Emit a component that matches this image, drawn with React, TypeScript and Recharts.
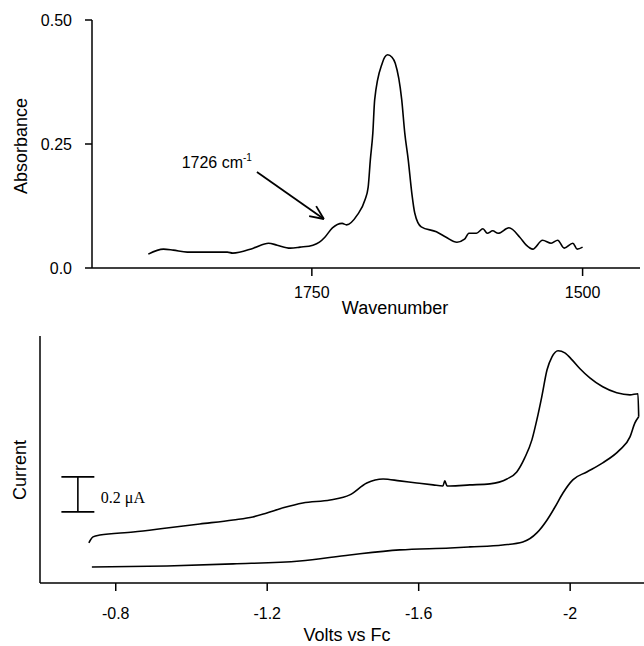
import React from 'react';
import { LineChart, Line, XAxis, YAxis, ReferenceLine } from 'recharts';

const FONT = '"Liberation Sans", Arial, Helvetica, sans-serif';
const SERIF = '"Liberation Serif", "Times New Roman", serif';

// ---------- Top panel: IR spectrum ----------
const wavenumbers = [
  1901, 1887, 1878, 1865, 1828, 1823, 1804, 1790, 1782, 1770, 1761, 1749, 1743, 1738,
  1731, 1722, 1718, 1708, 1701, 1698, 1696, 1693.7, 1692, 1685, 1682.7, 1680, 1676, 1673,
  1667, 1664.2, 1661, 1657.7, 1655, 1649, 1635, 1626, 1616, 1609, 1605, 1598, 1592, 1588,
  1583, 1578, 1568, 1558, 1552, 1546, 1537, 1529, 1523, 1517, 1509, 1505, 1500,
];
const absorbance = [
  0.028, 0.038, 0.036, 0.032, 0.032, 0.030, 0.040, 0.050, 0.046, 0.040, 0.042, 0.046, 0.052, 0.062,
  0.081, 0.090, 0.087, 0.107, 0.137, 0.163, 0.218, 0.272, 0.339, 0.413, 0.425, 0.430, 0.425, 0.413,
  0.339, 0.272, 0.218, 0.151, 0.111, 0.083, 0.073, 0.062, 0.052, 0.058, 0.070, 0.070, 0.079, 0.070,
  0.075, 0.070, 0.081, 0.062, 0.046, 0.038, 0.056, 0.050, 0.056, 0.040, 0.050, 0.038, 0.042,
];
const irXTicks = [1750, 1500];
const irYTicks = [0, 0.25, 0.5];
const irYTickLabels = ['0.0', '0.25', '0.50'];
const irArrow = { fromWn: 1800.7, fromA: 0.1935, toWn: 1738.9, toA: 0.0988 };
const irAnnotation = '1726 cm';

// ---------- Bottom panel: cyclic voltammogram ----------
const cvForwardVolts = [
  -0.729, -0.740, -0.758, -0.846, -0.935, -1.022, -1.110, -1.162, -1.199, -1.242, -1.294, -1.366,
  -1.418, -1.463, -1.506, -1.550, -1.595, -1.638, -1.664, -1.669, -1.675, -1.683, -1.735, -1.788,
  -1.833, -1.859, -1.880, -1.899, -1.912, -1.925, -1.939, -1.952, -1.968, -1.986, -2.005, -2.026,
  -2.052, -2.086, -2.123, -2.158, -2.179, -2.181,
];
const cvForwardCurrent = [
  0.229, 0.263, 0.274, 0.291, 0.314, 0.337, 0.360, 0.377, 0.400, 0.429, 0.457, 0.474,
  0.503, 0.571, 0.594, 0.583, 0.571, 0.560, 0.554, 0.583, 0.554, 0.554, 0.560, 0.566,
  0.594, 0.634, 0.714, 0.817, 0.931, 1.063, 1.217, 1.291, 1.326, 1.314, 1.274, 1.223,
  1.171, 1.120, 1.086, 1.074, 1.080, 0.949,
];
const cvReverseVolts = [
  -2.181, -2.171, -2.158, -2.131, -2.086, -2.044, -2.007, -1.981, -1.960, -1.939, -1.912,
  -1.875, -1.822, -1.735, -1.683, -1.550, -1.418, -1.286, -1.110, -0.935, -0.737,
];
const cvReverseCurrent = [
  0.949, 0.914, 0.834, 0.760, 0.686, 0.634, 0.589, 0.514, 0.434, 0.360, 0.286,
  0.234, 0.217, 0.206, 0.200, 0.189, 0.160, 0.126, 0.109, 0.097, 0.091,
];
const cvXTicks = [-0.8, -1.2, -1.6, -2];
const cvXTickLabels = ['-0.8', '-1.2', '-1.6', '-2'];
const scaleBar = { volts: -0.70, capHalf: 0.0435, low: 0.406, high: 0.606, text: '0.2 \u03bcA' };

const irData = wavenumbers.map((w, i) => ({ wn: w, a: absorbance[i] }));
const cvForward = cvForwardVolts.map((v, i) => ({ v, i: cvForwardCurrent[i] }));
const cvReverse = cvReverseVolts.map((v, i) => ({ v, i: cvReverseCurrent[i] }));

const tickStyle = { fill: '#000', fontSize: 16, fontFamily: FONT };
const titleProps = { fill: '#000', fontSize: 18, fontFamily: FONT };

const ArrowShape = (p: any) => {
  const { x1, y1, x2, y2 } = p;
  const ang = Math.atan2(y2 - y1, x2 - x1);
  const L = 15;
  const a1 = ang + Math.PI - 0.42;
  const a2 = ang + Math.PI + 0.42;
  return (
    <g>
      <line x1={x1} y1={y1} x2={x2} y2={y2} stroke="#000" strokeWidth={1.8} />
      <line x1={x2} y1={y2} x2={x2 + L * Math.cos(a1)} y2={y2 + L * Math.sin(a1)} stroke="#000" strokeWidth={1.8} />
      <line x1={x2} y1={y2} x2={x2 + L * Math.cos(a2)} y2={y2 + L * Math.sin(a2)} stroke="#000" strokeWidth={1.8} />
      <text x={x1 - 5} y={y1 - 4} textAnchor="end" fontFamily={FONT} fontSize={16} fill="#000">
        {irAnnotation}
        <tspan dy={-7} fontSize={10}>-1</tspan>
      </text>
    </g>
  );
};

const ScaleBarShape = (p: any) => {
  const { x1, y1, x2, y2 } = p;
  return (
    <g>
      <line x1={x1} y1={y1} x2={x2} y2={y2} stroke="#000" strokeWidth={1.6} />
      <text x={x1 + 23} y={(y1 + y2) / 2 + 9} fontFamily={SERIF} fontSize={16} fill="#000">
        {scaleBar.text}
      </text>
    </g>
  );
};

export default function App() {
  return (
    <div style={{ position: 'absolute', left: 0, top: 0, width: 644, height: 646, background: '#fff', overflow: 'hidden' }}>
      <div style={{ position: 'absolute', left: 0, top: 0 }}>
        <LineChart width={644} height={320} data={irData} margin={{ top: 20, right: 4, left: 0, bottom: 0 }}>
          <XAxis
            dataKey="wn"
            type="number"
            domain={[1447, 1953]}
            reversed
            allowDataOverflow
            ticks={irXTicks}
            height={52}
            tickSize={8}
            tickMargin={11}
            stroke="#000"
            strokeWidth={1.5}
            tick={tickStyle}
            label={{
              value: 'Wavenumber',
              content: (props: any) => {
                const vb = props.viewBox;
                return (
                  <text x={vb.x + 303} y={vb.y + 46} textAnchor="middle" {...titleProps}>
                    Wavenumber
                  </text>
                );
              },
            }}
          />
          <YAxis
            type="number"
            domain={[0, 0.5]}
            ticks={irYTicks}
            tickFormatter={(v: number) => irYTickLabels[irYTicks.indexOf(v)]}
            width={92}
            tickSize={7}
            tickMargin={13}
            stroke="#000"
            strokeWidth={1.5}
            tick={tickStyle}
            label={{
              value: 'Absorbance',
              content: (props: any) => {
                const vb = props.viewBox;
                const cx = vb.x + 27;
                const cy = vb.y + vb.height / 2 + 2;
                return (
                  <text x={cx} y={cy} textAnchor="middle" transform={`rotate(-90 ${cx} ${cy})`} {...titleProps}>
                    Absorbance
                  </text>
                );
              },
            }}
          />
          <Line dataKey="a" type="monotone" stroke="#000" strokeWidth={1.6} dot={false} isAnimationActive={false} />
          <ReferenceLine
            segment={[{ x: irArrow.fromWn, y: irArrow.fromA }, { x: irArrow.toWn, y: irArrow.toA }]}
            shape={ArrowShape}
          />
        </LineChart>
      </div>
      <div style={{ position: 'absolute', left: 0, top: 320 }}>
        <LineChart width={644} height={326} margin={{ top: 16, right: 0, left: 0, bottom: 0 }}>
          <XAxis
            dataKey="v"
            type="number"
            domain={[-2.195, -0.6]}
            reversed
            allowDataOverflow
            ticks={cvXTicks}
            tickFormatter={(v: number) => cvXTickLabels[cvXTicks.indexOf(v)]}
            height={63}
            tickSize={8}
            tickMargin={17}
            stroke="#000"
            strokeWidth={1.5}
            tick={tickStyle}
            label={{
              value: 'Volts vs Fc',
              content: (props: any) => {
                const vb = props.viewBox;
                return (
                  <text x={vb.x + 307} y={vb.y + 58} textAnchor="middle" {...titleProps}>
                    Volts vs Fc
                  </text>
                );
              },
            }}
          />
          <YAxis
            type="number"
            domain={[0, 1.41]}
            width={40}
            tick={false}
            tickLine={false}
            stroke="#000"
            strokeWidth={1.5}
            label={{
              value: 'Current',
              content: (props: any) => {
                const vb = props.viewBox;
                const cx = vb.x + 26;
                const cy = vb.y + 134;
                return (
                  <text x={cx} y={cy} textAnchor="middle" transform={`rotate(-90 ${cx} ${cy})`} {...titleProps}>
                    Current
                  </text>
                );
              },
            }}
          />
          <Line data={cvForward} dataKey="i" type="monotone" stroke="#000" strokeWidth={1.6} dot={false} isAnimationActive={false} />
          <Line data={cvReverse} dataKey="i" type="monotone" stroke="#000" strokeWidth={1.6} dot={false} isAnimationActive={false} />
          <ReferenceLine
            segment={[{ x: scaleBar.volts, y: scaleBar.low }, { x: scaleBar.volts, y: scaleBar.high }]}
            shape={ScaleBarShape}
          />
          <ReferenceLine
            segment={[{ x: scaleBar.volts + scaleBar.capHalf, y: scaleBar.high }, { x: scaleBar.volts - scaleBar.capHalf, y: scaleBar.high }]}
            stroke="#000"
            strokeWidth={1.6}
          />
          <ReferenceLine
            segment={[{ x: scaleBar.volts + scaleBar.capHalf, y: scaleBar.low }, { x: scaleBar.volts - scaleBar.capHalf, y: scaleBar.low }]}
            stroke="#000"
            strokeWidth={1.6}
          />
        </LineChart>
      </div>
    </div>
  );
}
